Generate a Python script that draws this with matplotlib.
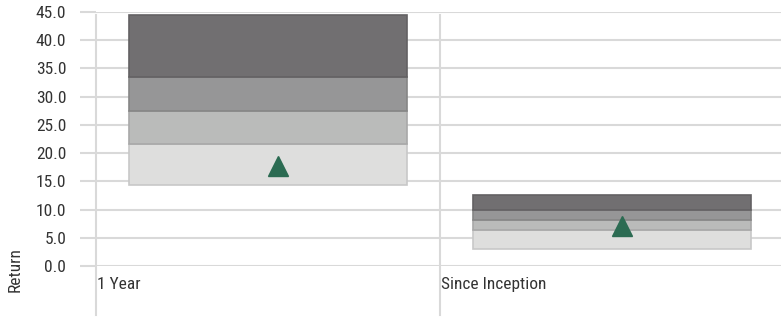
import matplotlib
matplotlib.use("Agg")
import matplotlib.pyplot as plt
from matplotlib import font_manager

# Return ranges per period (percentile bands) and the fund's own return
categories = ["1 Year", "Since Inception"]
pct5 = [14.3, 3.1]
pct25 = [21.6, 6.4]
pct50 = [27.4, 8.2]
pct75 = [33.4, 9.9]
pct95 = [44.5, 12.5]
fund_return = [17.8, 7.1]
y_ticks = [0, 5, 10, 15, 20, 25, 30, 35, 40, 45]

# pick a condensed sans face if one is installed
names = {f.name for f in font_manager.fontManager.ttflist}
preferred = ["Roboto Condensed", "Archivo Narrow", "Fira Sans Condensed",
             "IBM Plex Sans Condensed", "Barlow Semi Condensed", "Asap Condensed"]
chosen = next((n for n in preferred if n in names), None)
plt.rcParams["font.family"] = [chosen, "DejaVu Sans"] if chosen else ["DejaVu Sans"]
if not chosen:
    plt.rcParams["font.stretch"] = "condensed"

grid_c = "#d9d9d9"
text_c = "#333333"
fs = 12.5

fig = plt.figure(figsize=(7.81, 3.2), dpi=100)
ax = fig.add_axes([96 / 781, 1 - 266 / 320, 688 / 781, (266 - 12) / 320])

x = list(range(len(categories)))
xc = [i + 0.5 for i in x]
width = 0.81

bands = [
    (pct5, pct25, "#dededd", "#c8c8c8"),
    (pct25, pct50, "#babbba", "#a8a8a8"),
    (pct50, pct75, "#969697", "#868686"),
    (pct75, pct95, "#716f71", "#636163"),
]
for lo, hi, fc, ec in bands:
    heights = [h - l for l, h in zip(lo, hi)]
    ax.bar(xc, heights, bottom=lo, width=width, color=fc, edgecolor=ec,
           linewidth=1.2, zorder=3)

# fund marker sits a little right of the band centre
ax.plot([c + 0.028 for c in xc], fund_return, linestyle="none", marker="^",
        markersize=14, color="#2b6b52", zorder=5)

ax.set_xlim(0, len(categories))
ax.set_ylim(0, 45)
ax.set_yticks(y_ticks)
ax.set_yticklabels([f"{v:.1f}" for v in y_ticks])
ax.set_xticks([])
ax.yaxis.grid(True, color=grid_c, linewidth=1.5, zorder=0)
ax.set_axisbelow(True)
ax.tick_params(axis="y", length=11.5, width=1.5, color=grid_c, pad=10,
               labelsize=fs, labelcolor=text_c)
for s in ax.spines.values():
    s.set_visible(False)

# category separators reaching below the axis, with labels beside them
for i in x:
    ax.plot([i, i], [-8.7, 44.5], color=grid_c, linewidth=1.5,
            clip_on=False, zorder=1)
    ax.text(i + 0.002, -3.2, categories[i], ha="left", va="center",
            fontsize=fs, color=text_c, clip_on=False)

fig.text(15 / 781, 1 - 270 / 320, "Return", rotation=90, ha="center",
         va="center", fontsize=fs, color=text_c)

fig.savefig("out.png", dpi=100)
